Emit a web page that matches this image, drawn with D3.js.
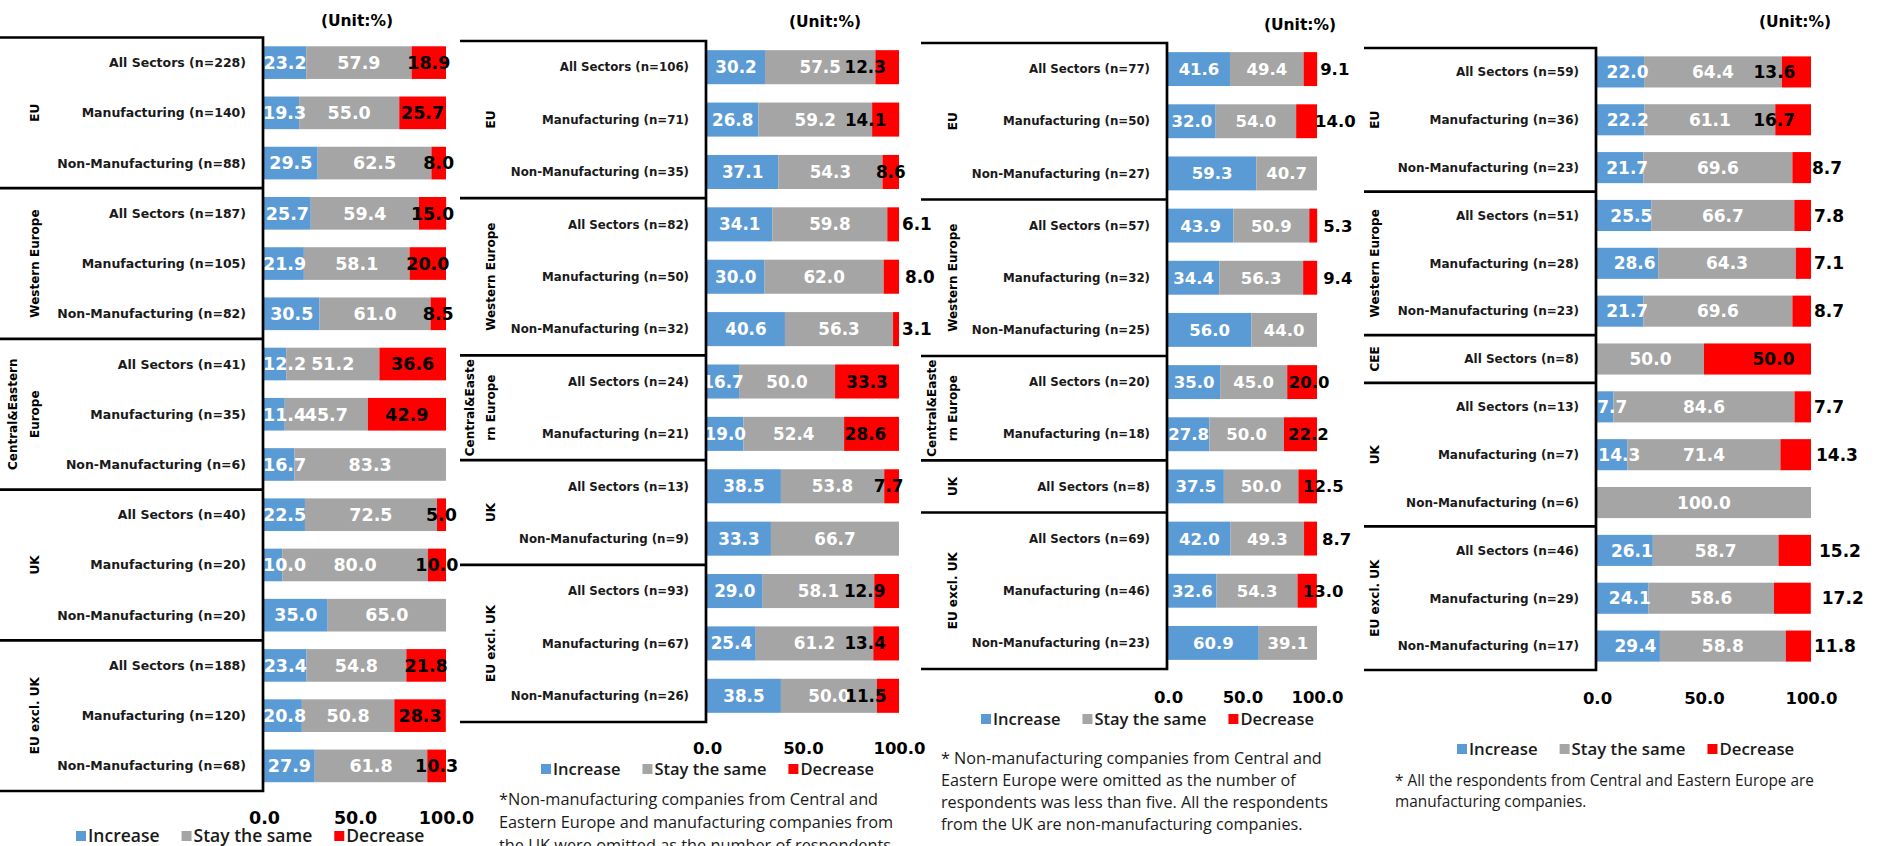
<!DOCTYPE html>
<html>
<head>
<meta charset="utf-8">
<script src="https://cdn.jsdelivr.net/npm/d3@7"></script>
<style>
  html, body { margin: 0; padding: 0; background: #fff; overflow: hidden; }
  svg { display: block; }
</style>
</head>
<body>
<svg id="chart" width="1893" height="846"></svg>
<script>
// ---- shared series definitions ----
const seriesNames = ["Increase", "Stay the same", "Decrease"];
const seriesColors = ["#5B9BD5", "#A5A5A5", "#FF0000"];
const seriesTextColors = ["#FFFFFF", "#FFFFFF", "#000000"];
const tickValues = [0, 50, 100];
const unitLabel = "(Unit:%)";

// ---- panel 1 ----
const p1GroupLabels = [["EU"], ["Western Europe"], ["Central&Eastern", "Europe"], ["UK"], ["EU excl. UK"]];
const p1GroupSizes = [3, 3, 3, 3, 3];
const p1Categories = [
  "All Sectors (n=228)", "Manufacturing (n=140)", "Non-Manufacturing (n=88)",
  "All Sectors (n=187)", "Manufacturing (n=105)", "Non-Manufacturing (n=82)",
  "All Sectors (n=41)", "Manufacturing (n=35)", "Non-Manufacturing (n=6)",
  "All Sectors (n=40)", "Manufacturing (n=20)", "Non-Manufacturing (n=20)",
  "All Sectors (n=188)", "Manufacturing (n=120)", "Non-Manufacturing (n=68)"
];
const p1Increase = [23.2, 19.3, 29.5, 25.7, 21.9, 30.5, 12.2, 11.4, 16.7, 22.5, 10.0, 35.0, 23.4, 20.8, 27.9];
const p1Same     = [57.9, 55.0, 62.5, 59.4, 58.1, 61.0, 51.2, 45.7, 83.3, 72.5, 80.0, 65.0, 54.8, 50.8, 61.8];
const p1Decrease = [18.9, 25.7, 8.0, 15.0, 20.0, 8.5, 36.6, 42.9, 0, 5.0, 10.0, 0, 21.8, 28.3, 10.3];
const p1Note = [];

// ---- panel 2 ----
const p2GroupLabels = [["EU"], ["Western Europe"], ["Central&Easte", "rn Europe"], ["UK"], ["EU excl. UK"]];
const p2GroupSizes = [3, 3, 2, 2, 3];
const p2Categories = [
  "All Sectors (n=106)", "Manufacturing (n=71)", "Non-Manufacturing (n=35)",
  "All Sectors (n=82)", "Manufacturing (n=50)", "Non-Manufacturing (n=32)",
  "All Sectors (n=24)", "Manufacturing (n=21)",
  "All Sectors (n=13)", "Non-Manufacturing (n=9)",
  "All Sectors (n=93)", "Manufacturing (n=67)", "Non-Manufacturing (n=26)"
];
const p2Increase = [30.2, 26.8, 37.1, 34.1, 30.0, 40.6, 16.7, 19.0, 38.5, 33.3, 29.0, 25.4, 38.5];
const p2Same     = [57.5, 59.2, 54.3, 59.8, 62.0, 56.3, 50.0, 52.4, 53.8, 66.7, 58.1, 61.2, 50.0];
const p2Decrease = [12.3, 14.1, 8.6, 6.1, 8.0, 3.1, 33.3, 28.6, 7.7, 0, 12.9, 13.4, 11.5];
const p2Note = [
  "*Non-manufacturing companies from Central and",
  "Eastern Europe and manufacturing companies from",
  "the UK were omitted as the number of respondents"
];

// ---- panel 3 ----
const p3GroupLabels = [["EU"], ["Western Europe"], ["Central&Easte", "rn Europe"], ["UK"], ["EU excl. UK"]];
const p3GroupSizes = [3, 3, 2, 1, 3];
const p3Categories = [
  "All Sectors (n=77)", "Manufacturing (n=50)", "Non-Manufacturing (n=27)",
  "All Sectors (n=57)", "Manufacturing (n=32)", "Non-Manufacturing (n=25)",
  "All Sectors (n=20)", "Manufacturing (n=18)",
  "All Sectors (n=8)",
  "All Sectors (n=69)", "Manufacturing (n=46)", "Non-Manufacturing (n=23)"
];
const p3Increase = [41.6, 32.0, 59.3, 43.9, 34.4, 56.0, 35.0, 27.8, 37.5, 42.0, 32.6, 60.9];
const p3Same     = [49.4, 54.0, 40.7, 50.9, 56.3, 44.0, 45.0, 50.0, 50.0, 49.3, 54.3, 39.1];
const p3Decrease = [9.1, 14.0, 0, 5.3, 9.4, 0, 20.0, 22.2, 12.5, 8.7, 13.0, 0];
const p3Note = [
  "* Non-manufacturing companies from Central and",
  "Eastern Europe were omitted as the number of",
  "respondents was less than five. All the respondents",
  "from the UK are non-manufacturing companies."
];

// ---- panel 4 ----
const p4GroupLabels = [["EU"], ["Western Europe"], ["CEE"], ["UK"], ["EU excl. UK"]];
const p4GroupSizes = [3, 3, 1, 3, 3];
const p4Categories = [
  "All Sectors (n=59)", "Manufacturing (n=36)", "Non-Manufacturing (n=23)",
  "All Sectors (n=51)", "Manufacturing (n=28)", "Non-Manufacturing (n=23)",
  "All Sectors (n=8)",
  "All Sectors (n=13)", "Manufacturing (n=7)", "Non-Manufacturing (n=6)",
  "All Sectors (n=46)", "Manufacturing (n=29)", "Non-Manufacturing (n=17)"
];
const p4Increase = [22.0, 22.2, 21.7, 25.5, 28.6, 21.7, 0, 7.7, 14.3, 0, 26.1, 24.1, 29.4];
const p4Same     = [64.4, 61.1, 69.6, 66.7, 64.3, 69.6, 50.0, 84.6, 71.4, 100.0, 58.7, 58.6, 58.8];
const p4Decrease = [13.6, 16.7, 8.7, 7.8, 7.1, 8.7, 50.0, 7.7, 14.3, 0, 15.2, 17.2, 11.8];
const p4Note = [
  "* All the respondents from Central and Eastern Europe are",
  "manufacturing companies."
];

// ---- layout of each panel (geometry, fonts, label placement) ----
// decPlace: ["m", dx] centres the Decrease label in its segment, ["e", dx] starts it after the bar end.
// clampLeft keeps Increase labels from spilling left of the plot area.
const layout1 = {
  boxLeft: -5, boxRight: 263, top: 37.5, bottom: 791, x0: 264, x1: 446,
  groupX: 35, lineGap: 22, unit: [357, 20], tickY: 818, legend: [76, 836],
  catFont: 12.5, valFont: 17.5, tickFont: 17.5, legendFont: 17.5,
  incDx: 0, clampLeft: 263, decPlace: null, noteX: 0, noteY: [], noteW: 0
};
const layout2 = {
  boxLeft: 460, boxRight: 706, top: 41, bottom: 722, x0: 707, x1: 899,
  groupX: 491, lineGap: 21, unit: [825, 21], tickY: 748, legend: [541, 769],
  catFont: 11.8, valFont: 16.8, tickFont: 16.5, legendFont: 16.5,
  incDx: 0, clampLeft: null,
  decPlace: [["m", -22], ["m", -20], ["m", 0], ["e", 3], ["e", 6], ["e", 3], ["m", 0], ["m", -6],
             ["m", -3], null, ["m", -22], ["m", -21], ["m", -22]],
  noteX: 499, noteY: [805, 828, 851], noteW: 379
};
const layout3 = {
  boxLeft: 921, boxRight: 1167, top: 43, bottom: 669, x0: 1168, x1: 1317,
  groupX: 953, lineGap: 21, unit: [1300, 24], tickY: 697, legend: [981, 719],
  catFont: 11.8, valFont: 16.5, tickFont: 16.5, legendFont: 16.5,
  incDx: 0, clampLeft: null,
  decPlace: [["e", 3], ["e", -2], null, ["e", 6], ["e", 6], null, ["m", 7], ["m", 8],
             ["e", -14], ["e", 5], ["e", -14], null],
  noteX: 941, noteY: [764, 786, 808, 830], noteW: 381
};
const layout4 = {
  boxLeft: 1364, boxRight: 1596, top: 48, bottom: 670, x0: 1597, x1: 1811,
  groupX: 1375, lineGap: 21, unit: [1795, 21], tickY: 698, legend: [1457, 749],
  catFont: 12, valFont: 17, tickFont: 16.5, legendFont: 16.8,
  incDx: 7, clampLeft: 1596,
  decPlace: [["m", -22], ["m", -19], ["e", 1], ["e", 3], ["e", 3], ["e", 3], ["m", 16], ["e", 3],
             ["e", 5], null, ["e", 8], ["e", 11], ["e", 3]],
  noteX: 1395, noteY: [786, 807], noteW: 419
};

const panels = [
  { cats: p1Categories, inc: p1Increase, same: p1Same, dec: p1Decrease, groups: p1GroupLabels, sizes: p1GroupSizes, note: p1Note, L: layout1 },
  { cats: p2Categories, inc: p2Increase, same: p2Same, dec: p2Decrease, groups: p2GroupLabels, sizes: p2GroupSizes, note: p2Note, L: layout2 },
  { cats: p3Categories, inc: p3Increase, same: p3Same, dec: p3Decrease, groups: p3GroupLabels, sizes: p3GroupSizes, note: p3Note, L: layout3 },
  { cats: p4Categories, inc: p4Increase, same: p4Same, dec: p4Decrease, groups: p4GroupLabels, sizes: p4GroupSizes, note: p4Note, L: layout4 }
];

const BOLD = "'DejaVu Sans', Verdana, sans-serif";
const fmt = d3.format(".1f");
const svg = d3.select("#chart");

function drawPanel(p) {
  const L = p.L;
  const n = p.cats.length;
  const rows = p.cats.map((c, i) => ({ i, cat: c, vals: [p.inc[i], p.same[i], p.dec[i]] }));

  const x = d3.scaleLinear().domain([0, 100]).range([L.x0, L.x1]);
  const y = d3.scaleBand().domain(d3.range(n)).range([L.top, L.bottom])
    .paddingInner(0.35).paddingOuter(0.175);
  const step = y.step();

  const series = d3.stack().keys([0, 1, 2]).value((r, k) => r.vals[k])(rows);
  const g = svg.append("g");

  // stacked bars
  g.append("g").selectAll("g").data(series).join("g")
    .attr("fill", s => seriesColors[s.key])
    .selectAll("rect").data(s => s.filter(pt => pt[1] - pt[0] > 0)).join("rect")
    .attr("x", pt => x(pt[0]))
    .attr("y", pt => y(pt.data.i))
    .attr("width", pt => x(pt[1]) - x(pt[0]))
    .attr("height", y.bandwidth());

  // value labels
  const labels = [];
  series.forEach(s => {
    s.forEach(pt => {
      const v = pt[1] - pt[0];
      if (v <= 0) return;
      const i = pt.data.i;
      let lx = (x(pt[0]) + x(pt[1])) / 2, anchor = "middle";
      if (s.key === 0) lx += L.incDx;
      if (s.key === 2 && L.decPlace && L.decPlace[i]) {
        const [mode, dx] = L.decPlace[i];
        if (mode === "e") { lx = x(pt[1]) + dx; anchor = "start"; }
        else lx += dx;
      }
      labels.push({ key: s.key, i, v: pt.data.vals[s.key], lx, anchor });
    });
  });
  g.append("g").selectAll("text").data(labels).join("text")
    .attr("x", d => d.lx)
    .attr("y", d => y(d.i) + y.bandwidth() / 2)
    .attr("dy", "0.36em")
    .attr("text-anchor", d => d.anchor)
    .attr("fill", d => seriesTextColors[d.key])
    .style("font-family", BOLD).style("font-weight", "bold").style("font-size", L.valFont + "px")
    .text(d => fmt(d.v))
    .each(function (d) {
      if (d.key !== 0 || L.clampLeft == null) return;
      const w = this.getComputedTextLength();
      if (d.lx - w / 2 < L.clampLeft) d3.select(this).attr("x", L.clampLeft + w / 2);
    });

  // bracket box with group separators
  let cum = 0;
  const seps = [];
  p.sizes.forEach((sz, gi) => { cum += sz; if (gi < p.sizes.length - 1) seps.push(L.top + cum * step); });
  g.append("path")
    .attr("d", `M${L.boxLeft},${L.top}H${L.boxRight}V${L.bottom}H${L.boxLeft}` +
      seps.map(sy => `M${L.boxLeft},${sy}H${L.boxRight}`).join(""))
    .attr("fill", "none").attr("stroke", "#000").attr("stroke-width", 2.7);

  // category labels
  g.append("g").selectAll("text").data(rows).join("text")
    .attr("x", L.boxRight - 17)
    .attr("y", r => y(r.i) + y.bandwidth() / 2)
    .attr("dy", "0.36em")
    .attr("text-anchor", "end")
    .attr("fill", "#1a1a1a")
    .style("font-family", BOLD).style("font-weight", "bold").style("font-size", L.catFont + "px")
    .text(r => r.cat);

  // rotated group labels
  let start = 0;
  const groupData = p.groups.map((lines, gi) => {
    const cy = L.top + (start + p.sizes[gi] / 2) * step;
    start += p.sizes[gi];
    return { lines, cy };
  });
  groupData.forEach(gd => {
    gd.lines.forEach((line, j) => {
      const gx = L.groupX - (gd.lines.length - 1 - j) * L.lineGap;
      g.append("text")
        .attr("transform", `translate(${gx},${gd.cy}) rotate(-90)`)
        .attr("text-anchor", "middle")
        .attr("dy", "0.36em")
        .attr("fill", "#000")
        .style("font-family", BOLD).style("font-weight", "bold").style("font-size", "12px")
        .text(line);
    });
  });

  // value axis
  const ax = g.append("g")
    .attr("transform", `translate(0,${L.tickY})`)
    .call(d3.axisBottom(x).tickValues(tickValues).tickFormat(fmt).tickSize(0).tickPadding(0));
  ax.select(".domain").remove();
  ax.selectAll("text")
    .attr("y", 0).attr("dy", "0.36em")
    .attr("fill", "#000")
    .style("font-family", BOLD).style("font-weight", "bold").style("font-size", L.tickFont + "px");

  // unit caption
  g.append("text")
    .attr("x", L.unit[0]).attr("y", L.unit[1]).attr("dy", "0.36em")
    .attr("text-anchor", "middle").attr("fill", "#000")
    .style("font-family", BOLD).style("font-weight", "bold").style("font-size", "15.5px")
    .text(unitLabel);

  // legend
  let lx = L.legend[0];
  const ly = L.legend[1];
  seriesNames.forEach((name, k) => {
    g.append("rect").attr("x", lx).attr("y", ly - 5).attr("width", 10).attr("height", 10)
      .attr("fill", seriesColors[k]);
    const t = g.append("text")
      .attr("x", lx + 12).attr("y", ly).attr("dy", "0.36em")
      .attr("fill", "#1a1a1a")
      .style("font-family", "'Open Sans', 'Noto Sans', sans-serif")
      .style("font-weight", 600).style("font-size", L.legendFont + "px")
      .text(name);
    lx += 12 + t.node().getComputedTextLength() + 22;
  });

  // footnote, widened to its column width
  if (p.note.length) {
    const ng = g.append("g");
    const lines = ng.selectAll("text").data(p.note).join("text")
      .attr("x", 0)
      .attr("y", (d, i) => L.noteY[i])
      .attr("fill", "#1a1a1a")
      .style("font-family", "'Open Sans', 'Noto Sans', sans-serif")
      .style("font-size", "15.7px")
      .text(d => d);
    const w0 = lines.node().getComputedTextLength();
    const sx = w0 > 0 ? L.noteW / w0 : 1;
    ng.attr("transform", `translate(${L.noteX},0) scale(${sx},1)`);
  }
}

panels.forEach(drawPanel);
</script>
</body>
</html>
